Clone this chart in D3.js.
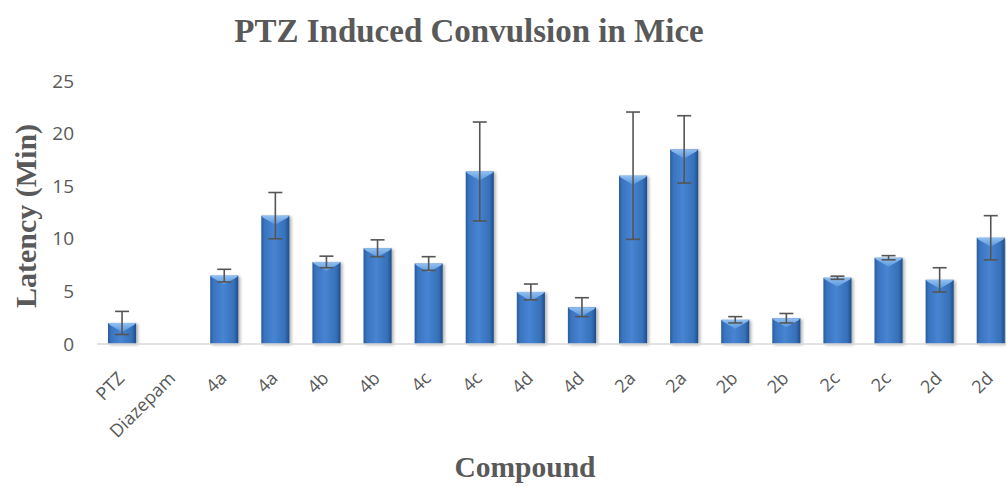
<!DOCTYPE html>
<html>
<head>
  <meta charset="UTF-8">
  <title>PTZ Induced Convulsion in Mice</title>
  <style>
    body { margin: 0; background: #fff; }
  </style>
</head>
<body>
  <div class="svg-zone"></div>
  <script src="https://cdn.jsdelivr.net/npm/d3@7/dist/d3.min.js"></script>
  <script type="text/javascript">
  // compound groups, mean latency (min) and error (+/-)
  let categories = ["PTZ", "Diazepam", "4a", "4a", "4b", "4b", "4c", "4c", "4d", "4d",
                    "2a", "2a", "2b", "2b", "2c", "2c", "2d", "2d"];
  let latency = [2.0, 0, 6.5, 12.2, 7.8, 9.1, 7.65, 16.4, 4.95, 3.5,
                 16.0, 18.5, 2.3, 2.45, 6.3, 8.2, 6.1, 10.1];
  let errors = [1.1, 0, 0.6, 2.2, 0.55, 0.8, 0.65, 4.7, 0.75, 0.9,
                6.05, 3.2, 0.3, 0.45, 0.15, 0.2, 1.15, 2.1];
  let yTicks = [0, 5, 10, 15, 20, 25];

  let data = categories.map(function (c, i) {
    return { name: c, i: i, value: latency[i], err: errors[i] };
  });

  render(data);

  function render(data) {
    var width = 1006,
      height = 486;

    var x = d3.scaleBand()
      .domain(d3.range(data.length))
      .range([96.5, 96.5 + 51.1 * data.length])
      .paddingInner(0.45)
      .paddingOuter(0.225);
    var y = d3.scaleLinear()
      .domain([0, 25])
      .range([344, 81]);

    var svg = d3.select(".svg-zone").append("svg")
      .attr("width", width)
      .attr("height", height)
      .style("display", "block");

    var defs = svg.append("defs");
    var grad = defs.append("linearGradient")
      .attr("id", "barGrad")
      .attr("x1", "0%").attr("x2", "100%").attr("y1", "0%").attr("y2", "0%");
    grad.append("stop").attr("offset", "0%").attr("stop-color", "#2a5c9e");
    grad.append("stop").attr("offset", "12%").attr("stop-color", "#3a74bf");
    grad.append("stop").attr("offset", "45%").attr("stop-color", "#4784d2");
    grad.append("stop").attr("offset", "85%").attr("stop-color", "#3670b8");
    grad.append("stop").attr("offset", "100%").attr("stop-color", "#1f4c88");

    var capGrad = defs.append("linearGradient")
      .attr("id", "capGrad")
      .attr("x1", "0%").attr("x2", "0%").attr("y1", "0%").attr("y2", "100%");
    capGrad.append("stop").attr("offset", "0%").attr("stop-color", "#9cc8f5");
    capGrad.append("stop").attr("offset", "100%").attr("stop-color", "#5b98de");

    var shadow = defs.append("filter").attr("id", "shadow")
      .attr("x", "-20%").attr("y", "-5%").attr("width", "150%").attr("height", "115%");
    shadow.append("feDropShadow")
      .attr("dx", 2).attr("dy", 1)
      .attr("stdDeviation", 1.5)
      .attr("flood-color", "#000")
      .attr("flood-opacity", 0.3);

    // title
    svg.append("text")
      .attr("x", 469)
      .attr("y", 42)
      .attr("text-anchor", "middle")
      .style("font-family", "'Liberation Serif', 'DejaVu Serif', serif")
      .style("font-weight", "bold")
      .style("font-size", "33px")
      .style("fill", "#595959")
      .text("PTZ Induced Convulsion in Mice");

    // y axis (labels only)
    var yAxis = svg.append("g")
      .attr("transform", "translate(74,0)")
      .call(d3.axisLeft(y).tickValues(yTicks).tickSize(0).tickPadding(0));
    yAxis.select(".domain").remove();
    yAxis.selectAll("text")
      .style("font-family", "'Open Sans', 'Liberation Sans', sans-serif")
      .style("font-size", "19px")
      .style("fill", "#595959");

    svg.append("text")
      .attr("transform", "translate(36,216) rotate(-90)")
      .attr("text-anchor", "middle")
      .style("font-family", "'Liberation Serif', 'DejaVu Serif', serif")
      .style("font-weight", "bold")
      .style("font-size", "30px")
      .style("fill", "#595959")
      .text("Latency (Min)");

    // bars
    var bars = svg.append("g").selectAll(".bar")
      .data(data.filter(function (d) { return d.value > 0; }))
      .enter().append("g")
      .attr("class", "bar");

    bars.append("rect")
      .attr("x", function (d) { return x(d.i); })
      .attr("y", function (d) { return y(d.value); })
      .attr("width", x.bandwidth())
      .attr("height", function (d) { return y(0) - y(d.value); })
      .style("fill", "url(#barGrad)")
      .style("filter", "url(#shadow)");

    bars.append("path")
      .attr("d", function (d) {
        var x0 = x(d.i), x1 = x0 + x.bandwidth(), yt = y(d.value);
        var cx = x0 + x.bandwidth() / 2;
        return "M" + x0 + "," + yt + "L" + x1 + "," + yt +
          "L" + (x1 - 2) + "," + (yt + 2) + "L" + cx + "," + (yt + 9) +
          "L" + (x0 + 2) + "," + (yt + 2) + "Z";
      })
      .style("fill", "url(#capGrad)")
      .style("opacity", 0.9);

    // x axis line
    svg.append("line")
      .attr("x1", 97).attr("x2", width)
      .attr("y1", y(0)).attr("y2", y(0))
      .style("stroke", "#d9d9d9")
      .style("stroke-width", 1.5);

    // error bars
    var eb = svg.append("g").selectAll(".err")
      .data(data.filter(function (d) { return d.err > 0; }))
      .enter().append("g")
      .attr("class", "err")
      .style("stroke", "#555")
      .style("stroke-width", 1.6);

    var cx = function (d) { return x(d.i) + x.bandwidth() / 2; };
    eb.append("line")
      .attr("x1", cx).attr("x2", cx)
      .attr("y1", function (d) { return y(d.value + d.err); })
      .attr("y2", function (d) { return y(d.value - d.err); });
    eb.append("line")
      .attr("x1", function (d) { return cx(d) - 7; })
      .attr("x2", function (d) { return cx(d) + 7; })
      .attr("y1", function (d) { return y(d.value + d.err); })
      .attr("y2", function (d) { return y(d.value + d.err); });
    eb.append("line")
      .attr("x1", function (d) { return cx(d) - 7; })
      .attr("x2", function (d) { return cx(d) + 7; })
      .attr("y1", function (d) { return y(d.value - d.err); })
      .attr("y2", function (d) { return y(d.value - d.err); });

    // x tick labels, rotated
    svg.append("g").selectAll(".xlab")
      .data(data)
      .enter().append("text")
      .attr("class", "xlab")
      .attr("transform", function (d) {
        return "translate(" + (cx(d) - 1) + "," + (y(0) + 31) + ") rotate(-45)";
      })
      .attr("text-anchor", "end")
      .attr("dy", "0.35em")
      .style("font-family", "'Open Sans', 'Liberation Sans', sans-serif")
      .style("font-size", "18px")
      .style("fill", "#595959")
      .text(function (d) { return d.name; });

    svg.append("text")
      .attr("x", 525)
      .attr("y", 477)
      .attr("text-anchor", "middle")
      .style("font-family", "'Liberation Serif', 'DejaVu Serif', serif")
      .style("font-weight", "bold")
      .style("font-size", "29.5px")
      .style("fill", "#595959")
      .text("Compound");
  }
  </script>
</body>
</html>
